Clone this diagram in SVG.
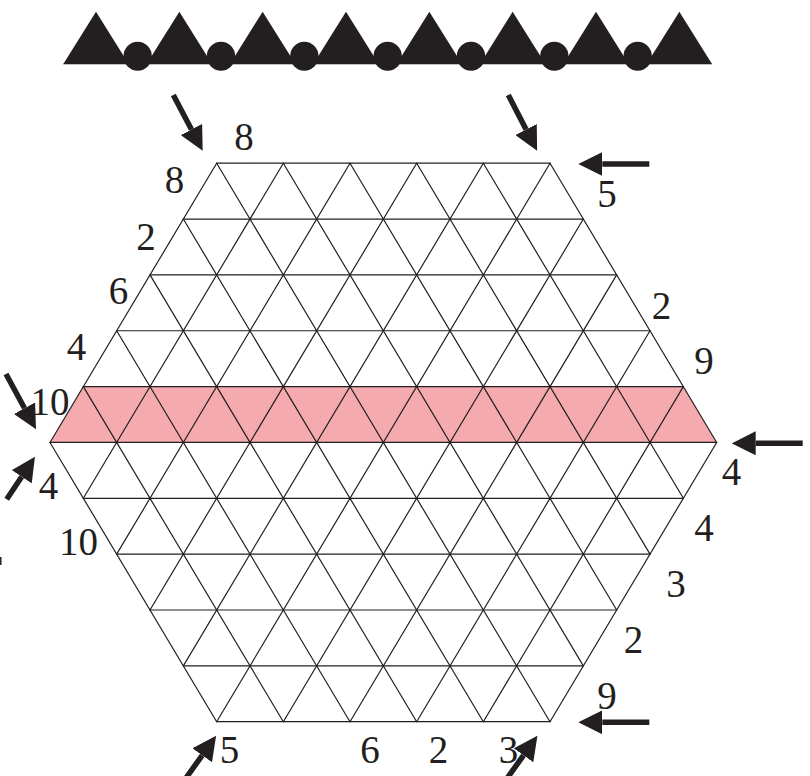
<svg xmlns="http://www.w3.org/2000/svg" width="810" height="776" viewBox="0 0 810 776">
<style>
.bk{fill:#231F20}
.grid line{stroke:#231F20;stroke-width:1.2;stroke-linecap:round}
text{font-family:'Liberation Serif','DejaVu Serif',serif;font-size:39px;fill:#231F20;text-anchor:middle}
.arr{stroke:#231F20;stroke-width:5.5;fill:none;marker-end:url(#ah)}
</style>
<defs>
<marker id="ah" markerUnits="userSpaceOnUse" viewBox="0 -12 24 24" refX="0" refY="0" markerWidth="24" markerHeight="24" orient="auto">
<path d="M0,-12 L24,0 L0,12 Z" fill="#231F20"/>
</marker>
<polygon id="tri" points="-32.7,64 0,11.7 32.7,64"/>
</defs>
<rect width="810" height="776" fill="#ffffff"/>
<g id="chain">
<line x1="63.3" y1="64" x2="711.7" y2="64" stroke="#808080" stroke-width="1"/>
<g class="bk">
<use href="#tri" x="96"/>
<use href="#tri" x="179.33"/>
<use href="#tri" x="262.67"/>
<use href="#tri" x="346"/>
<use href="#tri" x="429.33"/>
<use href="#tri" x="512.67"/>
<use href="#tri" x="596"/>
<use href="#tri" x="679.33"/>
<ellipse cx="137.67" cy="56.2" rx="14.2" ry="14.5"/>
<ellipse cx="221" cy="56.2" rx="14.2" ry="14.5"/>
<ellipse cx="304.33" cy="56.2" rx="14.2" ry="14.5"/>
<ellipse cx="387.67" cy="56.2" rx="14.2" ry="14.5"/>
<ellipse cx="471" cy="56.2" rx="14.2" ry="14.5"/>
<ellipse cx="554.33" cy="56.2" rx="14.2" ry="14.5"/>
<ellipse cx="637.67" cy="56.2" rx="14.2" ry="14.5"/>
</g>
</g>
<g id="band">
<polygon points="83.33,386.6 683.33,386.6 716.67,442.45 50,442.45" fill="#F5AAAE"/>
</g>
<g id="grid" class="grid">
<line x1="216.67" y1="163.2" x2="550" y2="163.2"/>
<line x1="183.33" y1="219.05" x2="583.33" y2="219.05"/>
<line x1="150" y1="274.9" x2="616.67" y2="274.9"/>
<line x1="116.67" y1="330.75" x2="650" y2="330.75"/>
<line x1="83.33" y1="386.6" x2="683.33" y2="386.6"/>
<line x1="50" y1="442.45" x2="716.67" y2="442.45"/>
<line x1="83.33" y1="498.3" x2="683.33" y2="498.3"/>
<line x1="116.67" y1="554.15" x2="650" y2="554.15"/>
<line x1="150" y1="610" x2="616.67" y2="610"/>
<line x1="183.33" y1="665.85" x2="583.33" y2="665.85"/>
<line x1="216.67" y1="721.7" x2="550" y2="721.7"/>
<line x1="50" y1="442.45" x2="216.67" y2="721.7"/>
<line x1="83.33" y1="386.6" x2="283.33" y2="721.7"/>
<line x1="116.67" y1="330.75" x2="350" y2="721.7"/>
<line x1="150" y1="274.9" x2="416.67" y2="721.7"/>
<line x1="183.33" y1="219.05" x2="483.33" y2="721.7"/>
<line x1="216.67" y1="163.2" x2="550" y2="721.7"/>
<line x1="283.33" y1="163.2" x2="583.33" y2="665.85"/>
<line x1="350" y1="163.2" x2="616.67" y2="610"/>
<line x1="416.67" y1="163.2" x2="650" y2="554.15"/>
<line x1="483.33" y1="163.2" x2="683.33" y2="498.3"/>
<line x1="550" y1="163.2" x2="716.67" y2="442.45"/>
<line x1="216.67" y1="163.2" x2="50" y2="442.45"/>
<line x1="283.33" y1="163.2" x2="83.33" y2="498.3"/>
<line x1="350" y1="163.2" x2="116.67" y2="554.15"/>
<line x1="416.67" y1="163.2" x2="150" y2="610"/>
<line x1="483.33" y1="163.2" x2="183.33" y2="665.85"/>
<line x1="550" y1="163.2" x2="216.67" y2="721.7"/>
<line x1="583.33" y1="219.05" x2="283.33" y2="721.7"/>
<line x1="616.67" y1="274.9" x2="350" y2="721.7"/>
<line x1="650" y1="330.75" x2="416.67" y2="721.7"/>
<line x1="683.33" y1="386.6" x2="483.33" y2="721.7"/>
<line x1="716.67" y1="442.45" x2="550" y2="721.7"/>
</g>
<g id="labels">
<text x="244" y="150">8</text>
<text x="174.5" y="193">8</text>
<text x="146" y="249.5">2</text>
<text x="118.5" y="304">6</text>
<text x="76.5" y="360">4</text>
<text x="50" y="415">10</text>
<text x="48.5" y="499">4</text>
<text x="78.5" y="555">10</text>
<text x="607" y="206.5">5</text>
<text x="661.5" y="318.5">2</text>
<text x="704" y="374">9</text>
<text x="731.5" y="485">4</text>
<text x="704" y="540.5">4</text>
<text x="676" y="596.5">3</text>
<text x="633.5" y="652.5">2</text>
<text x="607" y="708.5">9</text>
<text x="229.5" y="763">5</text>
<text x="370" y="763">6</text>
<text x="438.5" y="763">2</text>
<text x="508.5" y="763">3</text>
</g>
<g id="connectors">
<line class="arr" x1="173.3" y1="95" x2="191.5" y2="129.5"/>
<line class="arr" x1="508.3" y1="95" x2="526.1" y2="129.5"/>
<line class="arr" x1="649.3" y1="164" x2="602.3" y2="164"/>
<line class="arr" x1="802.7" y1="443.3" x2="755.7" y2="443.3"/>
<line class="arr" x1="649.3" y1="722.3" x2="602.3" y2="722.3"/>
<line class="arr" x1="6" y1="374" x2="24.55" y2="408.2"/>
<line class="arr" x1="6.7" y1="499.3" x2="21.7" y2="476.7"/>
<line class="arr" x1="179.6" y1="787" x2="202.2" y2="755.3"/>
<line class="arr" x1="500.9" y1="787" x2="523.5" y2="755.3"/>
<line x1="0.8" y1="557" x2="0.8" y2="565" stroke="#231F20" stroke-width="1.5"/>
</g>
</svg>
